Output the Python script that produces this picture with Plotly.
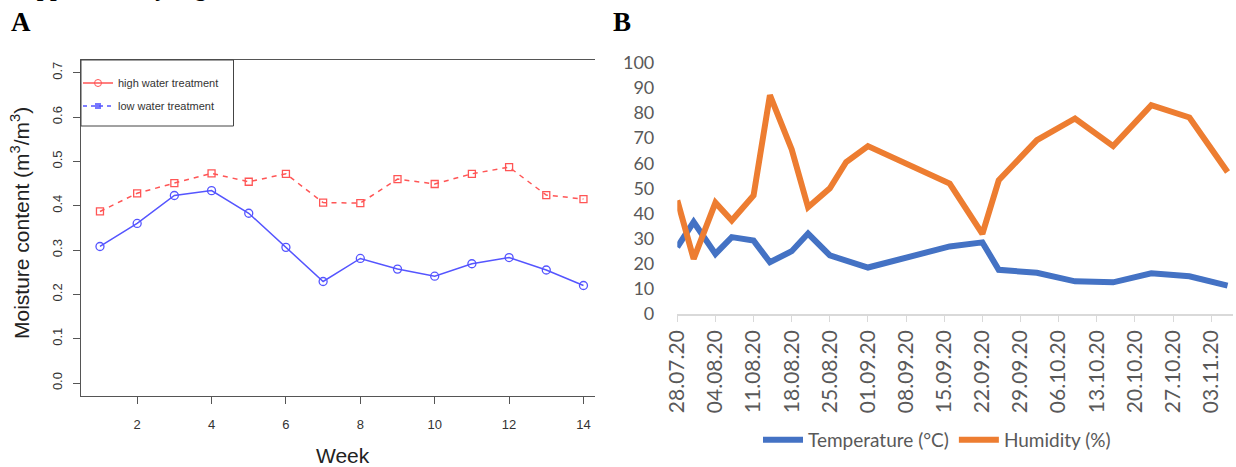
import plotly.graph_objects as go

W, H = 1236, 467

# ---------------- Panel A data ----------------
weeks = list(range(1, 15))
high_water = [0.387, 0.428, 0.451, 0.473, 0.454, 0.472, 0.407, 0.406, 0.460, 0.449, 0.472, 0.487, 0.424, 0.415]
low_water = [0.308, 0.360, 0.423, 0.434, 0.383, 0.306, 0.229, 0.281, 0.257, 0.241, 0.269, 0.283, 0.255, 0.220]
a_yticks = [0.0, 0.1, 0.2, 0.3, 0.4, 0.5, 0.6, 0.7]
a_xticks = [2, 4, 6, 8, 10, 12, 14]

# ---------------- Panel B data ----------------
dates = ["2020-07-28", "2020-07-31", "2020-08-04", "2020-08-07", "2020-08-11", "2020-08-14",
         "2020-08-18", "2020-08-21", "2020-08-25", "2020-08-28", "2020-09-01", "2020-09-16",
         "2020-09-22", "2020-09-25", "2020-10-02", "2020-10-09", "2020-10-16", "2020-10-23",
         "2020-10-30", "2020-11-06"]
temperature = [26.6, 36.6, 23.9, 30.6, 29.2, 20.6, 25.0, 32.0, 23.3, 21.0, 18.5, 26.9,
               28.5, 17.6, 16.4, 13.0, 12.6, 16.2, 15.0, 11.3]
humidity = [45.2, 21.9, 44.3, 37.2, 47.2, 87.1, 65.5, 42.5, 50.0, 60.5, 66.8, 51.9,
            31.9, 53.2, 69.2, 77.8, 66.8, 83.1, 78.2, 56.5]

RED = "#FF5555"
BLUE = "#5555FF"
C_TEMP = "#4472C4"
C_HUM = "#ED7D31"
A_FONT = "Liberation Sans, Arial, sans-serif"
B_FONT = "Lato, sans-serif"
SERIF = "Liberation Serif, Times New Roman, serif"


def px_x(p):
    return p / W


def px_y(p):
    return 1 - p / H


fig = go.Figure()

# Panel A data traces
fig.add_trace(go.Scatter(
    x=weeks, y=high_water, mode="lines+markers", showlegend=False,
    line=dict(color=RED, width=1.5, dash="5px,5px"),
    marker=dict(symbol="square-open", size=7, color=RED, line=dict(width=1.3)),
    xaxis="x", yaxis="y"))
fig.add_trace(go.Scatter(
    x=weeks, y=low_water, mode="lines+markers", showlegend=False,
    line=dict(color=BLUE, width=1.5),
    marker=dict(symbol="circle-open", size=8, color=BLUE, line=dict(width=1.3)),
    xaxis="x", yaxis="y"))

# Panel A legend entries (as drawn in the original legend)
fig.add_trace(go.Scatter(
    x=[None], y=[None], mode="lines+markers", name="high water treatment",
    line=dict(color=RED, width=1.5),
    marker=dict(symbol="circle-open", size=7, color=RED),
    legend="legend", legendgroup="g1", xaxis="x", yaxis="y"))
fig.add_trace(go.Scatter(
    x=[None], y=[None], mode="lines+markers", name="low water treatment",
    line=dict(color=BLUE, width=1.5, dash="4px,4px"),
    marker=dict(symbol="square", size=6, color=BLUE, opacity=0.8),
    legend="legend", legendgroup="g2", xaxis="x", yaxis="y"))

# Panel B traces
fig.add_trace(go.Scatter(
    x=dates, y=temperature, mode="lines", name="Temperature (°C)",
    line=dict(color=C_TEMP, width=6), legend="legend2",
    xaxis="x2", yaxis="y2"))
fig.add_trace(go.Scatter(
    x=dates, y=humidity, mode="lines", name="Humidity (%)",
    line=dict(color=C_HUM, width=6), legend="legend2",
    xaxis="x2", yaxis="y2"))

axA_line = "#555555"

fig.update_layout(
    width=W, height=H, autosize=False,
    margin=dict(l=0, r=0, t=0, b=0, autoexpand=False),
    paper_bgcolor="white", plot_bgcolor="white",
    xaxis=dict(
        domain=[px_x(81), px_x(595)], range=[0.49, 14.31],
        tickvals=a_xticks, ticks="outside", ticklen=7, tickcolor=axA_line,
        ticklabelstandoff=10,
        showline=True, linecolor=axA_line, linewidth=1, mirror=True,
        showgrid=False, zeroline=False, automargin=False,
        tickfont=dict(family=A_FONT, size=13, color="#333333"),
        anchor="y"),
    yaxis=dict(
        domain=[px_y(395.6), px_y(60)], range=[-0.0284, 0.7287],
        tickvals=a_yticks, tickformat=".1f", tickangle=-90,
        ticks="outside", ticklen=7, tickcolor=axA_line,
        ticklabelstandoff=6,
        showline=True, linecolor=axA_line, linewidth=1,
        showgrid=False, zeroline=False, automargin=False,
        tickfont=dict(family=A_FONT, size=13, color="#333333"),
        anchor="x"),
    xaxis2=dict(
        domain=[px_x(677.3), px_x(1233)],
        range=["2020-07-28", "2020-11-07"],
        type="date", tick0="2020-07-28", dtick=7 * 86400000,
        tickformat="%d.%m.%y", tickangle=-90,
        ticks="outside", ticklen=6, tickcolor="#D9D9D9",
        showline=True, linecolor="#D9D9D9", linewidth=1.5,
        showgrid=False, zeroline=False, automargin=False,
        tickfont=dict(family=B_FONT, size=21, color="#595959"),
        anchor="y2"),
    yaxis2=dict(
        domain=[px_y(314), px_y(62.7)], range=[0, 100],
        dtick=10, showline=False, showgrid=False, zeroline=False,
        ticks="", ticklabelstandoff=22, automargin=False,
        tickfont=dict(family=B_FONT, size=18, color="#595959"),
        anchor="x2"),
    legend=dict(
        x=px_x(78), y=px_y(68.5), xanchor="left", yanchor="top",
        bgcolor="rgba(0,0,0,0)", borderwidth=0,
        font=dict(family=A_FONT, size=11, color="#333333"),
        tracegroupgap=4, itemwidth=30),
    legend2=dict(
        orientation="h", x=px_x(937), y=px_y(440), xanchor="center", yanchor="middle",
        bgcolor="rgba(0,0,0,0)", borderwidth=0,
        font=dict(family=B_FONT, size=19, color="#595959"),
        itemwidth=40),
    shapes=[
        # legend frame of panel A
        dict(type="rect", xref="paper", yref="paper",
             x0=px_x(81), x1=px_x(233.5), y0=px_y(126), y1=px_y(60),
             line=dict(color="#444444", width=1), fillcolor="rgba(0,0,0,0)", layer="above"),
    ],
    annotations=[
        dict(text="<b>Supplementary Figure</b>", x=px_x(8), y=px_y(3.5), xref="paper", yref="paper",
             xanchor="left", yanchor="bottom", showarrow=False,
             font=dict(family=SERIF, size=24, color="black")),
        dict(text="<b>A</b>", x=px_x(9), y=px_y(22), xref="paper", yref="paper",
             xanchor="left", yanchor="middle", showarrow=False,
             font=dict(family=SERIF, size=27, color="black")),
        dict(text="<b>B</b>", x=px_x(611), y=px_y(22), xref="paper", yref="paper",
             xanchor="left", yanchor="middle", showarrow=False,
             font=dict(family=SERIF, size=27, color="black")),
        dict(text="Week", x=px_x(343), y=px_y(455), xref="paper", yref="paper",
             xanchor="center", yanchor="middle", showarrow=False,
             font=dict(family=A_FONT, size=21, color="#222222")),
        dict(text="Moisture content (m<sup>3</sup>/m<sup>3</sup>)", x=px_x(20), y=px_y(223),
             xref="paper", yref="paper", xanchor="center", yanchor="middle",
             textangle=-90, showarrow=False,
             font=dict(family=A_FONT, size=21, color="#222222")),
    ],
)

fig.write_html("out.html")
